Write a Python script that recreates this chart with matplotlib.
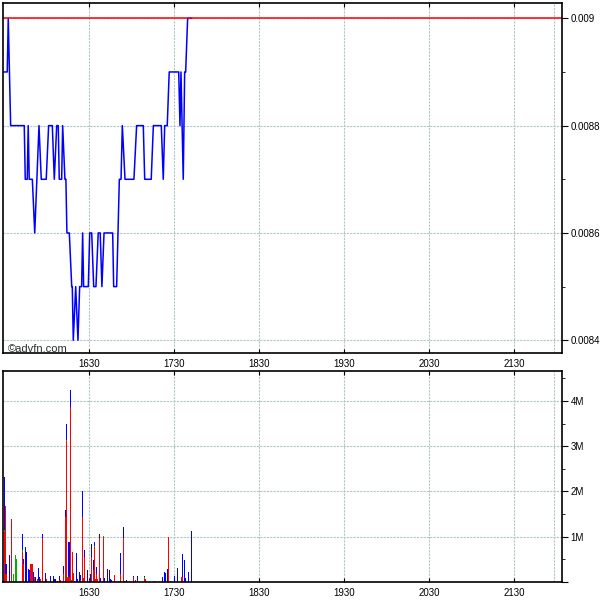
import matplotlib
matplotlib.use("Agg")
import matplotlib.pyplot as plt
from matplotlib.ticker import MultipleLocator, FuncFormatter
import numpy as np

plt.rcParams['font.family'] = ['Liberation Sans', 'DejaVu Sans']

# price trace, minutes after 15:30
price_t = [0, 2.1, 2.8, 4.5, 14.1, 14.8, 16.2, 16.9, 17.6, 19.8, 21.5, 24.5, 26.1, 29.6,
           31.3, 33.9, 35.3, 37.0, 38.1, 38.8, 40.5, 41.2, 42.8, 43.5, 44.2, 45.9, 47.6,
           48.0, 48.7, 50.4, 52.0, 53.2, 54.6, 55.3, 56.0, 59.3, 60.3, 61.7, 63.1, 64.7,
           66.3, 67.7, 68.9, 70.4, 76.5, 77.2, 79.3, 81.2, 82.4, 83.3, 85.2, 91.5, 93.4,
           98.1, 99.1, 103.7, 105.2, 110.8, 112.2, 113.2, 115.0, 116.4, 123.1, 124.0,
           124.7, 126.3, 127.3, 128.0, 129.4, 132.1]
price_v = [0.0089, 0.0089, 0.0090, 0.0088, 0.0088, 0.0087, 0.0087, 0.0088, 0.0087, 0.0087,
           0.0086, 0.0088, 0.0087, 0.0087, 0.0088, 0.0088, 0.0087, 0.0088, 0.0088, 0.0087,
           0.0087, 0.0088, 0.0087, 0.0087, 0.0086, 0.0086, 0.0085, 0.0085, 0.0084, 0.0085,
           0.0084, 0.0085, 0.0085, 0.0086, 0.0085, 0.0085, 0.0086, 0.0086, 0.0085, 0.0085,
           0.0086, 0.0086, 0.0085, 0.0086, 0.0086, 0.0085, 0.0085, 0.0087, 0.0087, 0.0088,
           0.0087, 0.0087, 0.0088, 0.0088, 0.0087, 0.0087, 0.0088, 0.0088, 0.0087, 0.0088,
           0.0088, 0.0089, 0.0089, 0.0088, 0.0089, 0.0087, 0.0089, 0.0089, 0.0090, 0.0090]
last_price = 0.0090

# volume bars (millions), stacked red / green / blue
vol_t = [0.0, 0.5, 1.2, 3.6, 5.0, 6.4, 7.8, 8.5, 12.7, 13.4, 14.8, 15.6, 17.0, 17.7, 18.4,
         19.6, 20.5, 21.2, 21.9, 23.3, 24.0, 24.7, 25.4, 26.8, 29.0, 29.7, 32.5, 34.6, 35.8,
         37.4, 38.8, 39.6, 41.7, 43.1, 43.8, 44.7, 45.7, 46.6, 47.3, 48.3, 49.0, 49.7, 50.8,
         51.6, 53.0, 53.7, 55.1, 55.8, 56.5, 58.6, 60.0, 60.7, 61.4, 62.8, 63.6, 64.3, 65.0,
         65.7, 67.1, 67.8, 69.9, 70.6, 72.7, 74.1, 74.8, 75.5, 77.7, 80.5, 81.9, 84.0, 84.7,
         86.1, 91.1, 92.5, 93.9, 98.8, 99.6, 105.9, 111.6, 113.0, 113.7, 115.1, 115.8, 117.2,
         120.0, 122.1, 124.9, 125.7, 127.1, 127.8, 129.9, 132.0]
vol_red = [1.10, 1.67, 0.18, 0, 1.40, 0, 0, 0, 0.67, 0.40, 0, 0, 0, 0, 0.39,
           0.39, 0, 0.11, 0, 0.07, 0.04, 0, 0.07, 0.98, 0, 0.06, 0, 0, 0,
           0, 0.05, 0.04, 0.18, 1.43, 3.12, 0.08, 0.11, 3.86, 0.02, 0.66, 0.18, 0.02, 0,
           0, 0, 0.05, 1.43, 0.08, 0.55, 0, 0.05, 0, 0.55, 0.27, 0.77, 0.06, 0.18,
           0.06, 0.98, 0, 0.99, 0, 0, 0, 0, 0, 0.15, 0.02, 0.18, 0.98, 0,
           0, 0.11, 0.04, 0, 0.07, 0.07, 0, 0, 0, 0, 0, 0.99, 0,
           0, 0, 0.11, 0.11, 0, 0, 0, 0]
vol_green = [0.05, 0, 0, 0, 0, 0.18, 0.59, 0.51, 0.03, 0, 0, 0, 0, 0, 0,
             0, 0, 0, 0, 0, 0, 0, 0, 0, 0, 0, 0, 0, 0,
             0, 0, 0, 0, 0, 0.02, 0.03, 0, 0, 0.02, 0, 0.02, 0, 0,
             0, 0, 0, 0, 0, 0, 0, 0, 0, 0, 0, 0.02, 0, 0,
             0, 0, 0, 0.03, 0, 0, 0, 0, 0, 0, 0, 0, 0, 0,
             0, 0, 0, 0, 0.03, 0, 0, 0, 0, 0, 0, 0, 0,
             0, 0, 0, 0, 0, 0, 0, 0]
vol_blue = [1.16, 0, 0.21, 0.59, 0, 0, 0, 0, 0.35, 0.10, 0.77, 0.66, 0.29, 0.27, 0,
            0, 0.21, 0, 0.10, 0, 0.26, 0.10, 0, 0.07, 0.19, 0, 0.13, 0.13, 0.06,
            0.02, 0.08, 0, 0.18, 0.15, 0.34, 0, 0.78, 0.39, 0, 0, 0, 0, 0.63,
            0.07, 0.21, 0.11, 0.57, 0, 0.15, 0.27, 0, 0.18, 0.28, 0.21, 0.10, 0, 0.16,
            0, 0.07, 0.08, 0, 0.08, 0.28, 0.26, 0.06, 0.05, 0, 0, 0.46, 0.23, 0.02,
            0.04, 0.03, 0, 0.13, 0.04, 0, 0.02, 0.11, 0.21, 0.20, 0.28, 0, 0.02,
            0.13, 0.30, 0, 0.50, 0.48, 0.08, 0.21, 1.12]

tick_pos = [60, 120, 180, 240, 300, 360]
tick_lab = ["1630", "1730", "1830", "1930", "2030", "2130"]
session_end = 388

grid_col = "#b2c6c6"
tick_fs = 7

fig = plt.figure(figsize=(6, 6), dpi=100)
ax1 = fig.add_axes([0.005, 1 - 353 / 600, 0.9317, 350 / 600])
ax2 = fig.add_axes([0.005, 1 - 582 / 600, 0.9317, 211 / 600])

for ax in (ax1, ax2):
    ax.set_xlim(-0.9, 393.6)
    ax.set_xticks(tick_pos, tick_lab)
    ax.yaxis.tick_right()
    ax.tick_params(axis="y", which="major", direction="out", length=4, labelsize=tick_fs, pad=2)
    ax.tick_params(axis="y", which="minor", direction="out", length=2)
    ax.tick_params(axis="x", direction="in", length=3, labelsize=tick_fs, top=True, pad=4)
    ax.grid(True, color=grid_col, linestyle=(0, (2, 1)), linewidth=0.8)
    ax.axvline(session_end, color=grid_col, linestyle=(0, (2, 1)), linewidth=0.8)
    ax.set_axisbelow(True)
    for s in ax.spines.values():
        s.set_linewidth(1.2)

# price panel
ax1.plot(price_t, price_v, color="blue", linewidth=1.1)
ax1.axhline(last_price, color="red", linewidth=1.1)
ax1.set_ylim(0.0083763, 0.0090285)
ax1.yaxis.set_major_locator(MultipleLocator(0.0002))
ax1.yaxis.set_minor_locator(MultipleLocator(0.0001))
ax1.yaxis.set_major_formatter(FuncFormatter(lambda v, p: ("%.4f" % v).rstrip("0")))
ax1.text(0.008, 0.004, "\u00a9advfn.com", transform=ax1.transAxes, fontsize=8, color="#303030")

# volume panel
r = np.array(vol_red)
g = np.array(vol_green)
b = np.array(vol_blue)
bar_kw = dict(width=0.9, linewidth=0, antialiased=False)
ax2.bar(vol_t, r, color="red", **bar_kw)
ax2.bar(vol_t, g, bottom=r, color="#00b000", **bar_kw)
ax2.bar(vol_t, b, bottom=r + g, color="blue", **bar_kw)
ax2.set_ylim(0, 4.66)
ax2.yaxis.set_major_locator(MultipleLocator(1))
ax2.yaxis.set_minor_locator(MultipleLocator(0.5))
ax2.yaxis.set_major_formatter(FuncFormatter(lambda v, p: "%dM" % v if v > 0 else ""))

fig.savefig("out.png", dpi=100)
